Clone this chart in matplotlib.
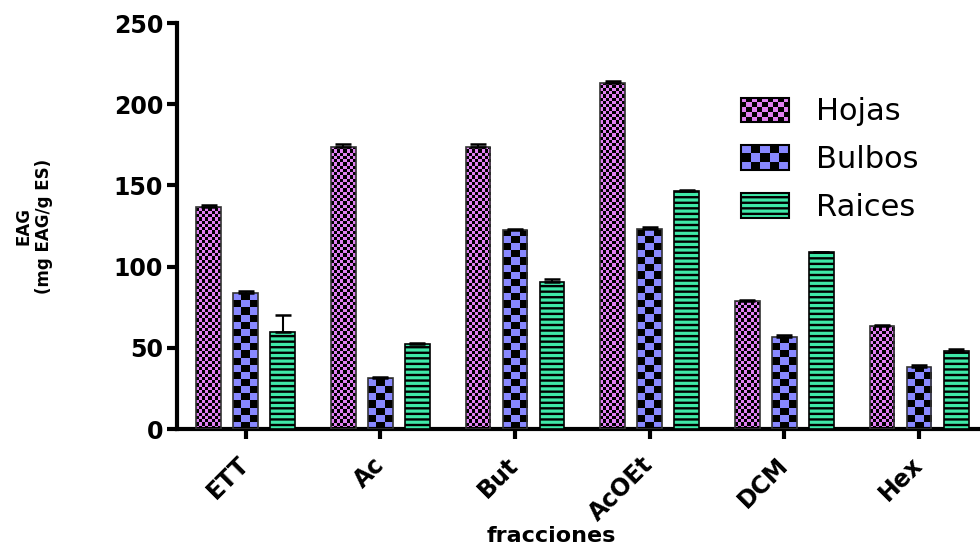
import numpy as np
import matplotlib
matplotlib.use("Agg")
import matplotlib.pyplot as plt
from matplotlib.patches import Rectangle
from matplotlib.legend_handler import HandlerBase
from matplotlib.image import BboxImage
from matplotlib.transforms import Bbox, TransformedBbox

# fracciones del extracto
fracciones = ["ETT", "Ac", "But", "AcOEt", "DCM", "Hex"]
# EAG (mg EAG/g ES) por organo
hojas = [137, 174, 174, 213, 78.6, 63.5]
bulbos = [83.7, 31.4, 122.5, 123.5, 56.5, 38]
raices = [59.7, 52.4, 90.7, 146.6, 108.8, 48.2]
# error (solo hacia arriba)
err_hojas = [0.8, 1.5, 1.5, 1.5, 0.8, 0.8]
err_bulbos = [1.2, 0.6, 0.8, 0.8, 1.4, 1.2]
err_raices = [10.3, 0.5, 1.4, 0.5, 0.5, 0.8]

c_hojas = "#e080f2"
c_bulbos = "#8888ff"
c_raices = "#3fe8a8"

plt.rcParams["font.family"] = ["DejaVu Sans"]
plt.rcParams["hatch.linewidth"] = 1.7


def tablero(nx, ny, color):
    # imagen de cuadros alternados color / negro
    rgb = np.array(matplotlib.colors.to_rgb(color))
    mask = (np.indices((ny, nx)).sum(axis=0) % 2)[..., None]
    return np.where(mask == 0, rgb, np.zeros(3))


class HandlerTablero(HandlerBase):
    def __init__(self, color, nx, ny):
        super().__init__()
        self.img = tablero(nx, ny, color)

    def create_artists(self, legend, orig_handle, xdescent, ydescent,
                       width, height, fontsize, trans):
        bb = TransformedBbox(Bbox.from_bounds(-xdescent, -ydescent, width, height), trans)
        im = BboxImage(bb, interpolation="nearest", origin="lower")
        im.set_data(self.img)
        marco = Rectangle((-xdescent, -ydescent), width, height, fill=False,
                          edgecolor="black", lw=1.5, transform=trans)
        return [im, marco]


fig = plt.figure(figsize=(9.8, 5.47), dpi=100)
ax = fig.add_axes([0.1806, 0.2157, 0.83, 0.742])

x = np.arange(len(fracciones))
w = 0.185
d = 0.275
ceros = [0] * len(x)

bh = ax.bar(x - d, hojas, w, facecolor="none", edgecolor="#333333", lw=1.2, zorder=3)
bb = ax.bar(x, bulbos, w, facecolor="none", edgecolor="#333333", lw=1.2, zorder=3)
br = ax.bar(x + d, raices, w, color=c_raices, edgecolor="black", lw=1.2,
            hatch="---", zorder=3)

# relleno de cuadros, recortado a cada barra
for barras, color, nx, celda in [(bh, c_hojas, 8, 2.0), (bb, c_bulbos, 3, 4.4)]:
    for p in barras:
        h = p.get_height()
        ny = int(np.ceil(h / celda))
        im = ax.imshow(tablero(nx, ny, color), origin="lower", aspect="auto",
                       interpolation="nearest", zorder=2,
                       extent=(p.get_x(), p.get_x() + p.get_width(), 0, ny * celda))
        im.set_clip_path(p)

for xs, vals, errs in [(x - d, hojas, err_hojas), (x, bulbos, err_bulbos), (x + d, raices, err_raices)]:
    ax.errorbar(xs, vals, yerr=[ceros, errs], fmt="none", ecolor="black",
                elinewidth=1.5, capsize=6, capthick=1.8, zorder=4)

ax.set_xlim(-0.51, 5.53)
ax.set_ylim(0, 250)
ax.set_yticks([0, 50, 100, 150, 200, 250])
ax.set_xticks(x)
ax.set_xticklabels(fracciones, rotation=45, ha="right", va="center",
                   rotation_mode="anchor", fontsize=17, fontweight="bold")
for t in ax.get_yticklabels():
    t.set_fontweight("bold")
ax.tick_params(axis="y", labelsize=17, width=3, length=7, pad=3)
ax.tick_params(axis="x", width=3, length=7, pad=16)

for s in ["top", "right"]:
    ax.spines[s].set_visible(False)
for s in ["left", "bottom"]:
    ax.spines[s].set_linewidth(3)

ax.set_ylabel("EAG\n(mg EAG/g ES)", fontsize=12, fontweight="bold", linespacing=1.15)
ax.yaxis.set_label_coords(-0.153, 0.5)
ax.set_xlabel("fracciones", fontsize=16, fontweight="bold")
ax.xaxis.set_label_coords(0.46, -0.24)

ph = Rectangle((0, 0), 1, 1)
pb = Rectangle((0, 0), 1, 1)
pr = Rectangle((0, 0), 1, 1, facecolor=c_raices, edgecolor="black", hatch="---", lw=1.5)
ax.legend([ph, pb, pr], ["Hojas", "Bulbos", "Raices"],
          handler_map={ph: HandlerTablero(c_hojas, 9, 5), pb: HandlerTablero(c_bulbos, 5, 3)},
          loc="upper left", bbox_to_anchor=(0.66, 0.885), frameon=False,
          fontsize=22, handlelength=1.55, handleheight=0.85, labelspacing=0.62,
          handletextpad=0.9)

fig.savefig("out.png", dpi=100)
